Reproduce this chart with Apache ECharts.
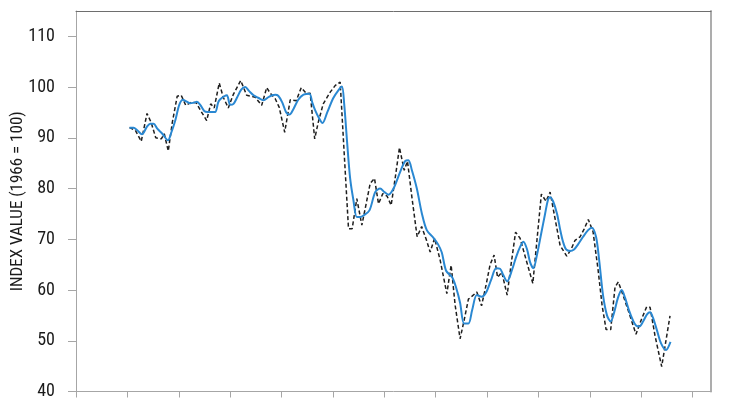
<!DOCTYPE html>
<html>
<head>
<meta charset="utf-8">
<script src="https://cdn.jsdelivr.net/npm/echarts@6/dist/echarts.min.js"></script>
<style>
html,body{margin:0;padding:0;background:#fff;}
#chart{width:740px;height:400px;}
</style>
</head>
<body>
<div id="chart"></div>
<script>
// Dashed series (index values, 1966 = 100)
const actualYears = [1965.21,1965.77,1966.35,1966.91,1967.32,1967.76,1968.30,1968.59,1968.98,1969.37,1969.85,1970.24,1970.68,1971.22,1971.70,1972.09,1972.72,1973.11,1973.45,1973.94,1974.33,1974.82,1975.30,1976.03,1976.61,1977.44,1978.07,1978.56,1978.90,1979.39,1979.78,1980.31,1980.85,1981.43,1981.92,1982.45,1982.79,1983.23,1983.57,1984.06,1984.74,1985.22,1985.71,1986.10,1986.52,1986.88,1987.33,1987.82,1988.24,1988.63,1989.05,1989.44,1989.86,1990.28,1990.67,1991.06,1991.48,1991.94,1992.26,1992.71,1993.20,1993.64,1994.08,1994.47,1994.90,1995.44,1996.09,1996.51,1996.90,1997.38,1997.77,1998.19,1998.55,1999.01,1999.47,1999.91,2000.30,2000.69,2001.03,2001.44,2001.96,2002.34,2002.78,2003.22,2003.80,2004.46,2004.87,2005.29,2005.75,2006.14,2006.63,2007.11,2007.76,2008.18,2008.57,2009.06,2009.45,2009.86,2010.32,2010.81,2011.20,2011.59,2012.04,2012.46,2012.78,2013.24,2013.82,2014.50,2014.99,2015.54,2015.87,2016.35,2017.00,2017.81];
const actualValues = [92.0,91.5,89.3,94.8,93.0,90.0,89.8,90.8,87.4,93.0,98.2,98.4,96.4,97.0,96.9,95.5,93.4,96.7,95.9,100.8,98.0,95.9,98.5,101.3,98.4,98.0,96.4,99.9,98.8,97.7,96.0,91.1,97.5,97.3,99.9,98.7,98.8,89.8,93.0,96.7,99.0,100.3,101.0,87.0,72.1,72.1,78.0,72.8,77.0,81.0,82.0,77.0,79.0,78.5,76.7,82.0,88.1,83.6,85.4,78.0,70.5,72.5,70.0,67.5,70.2,65.9,59.3,64.9,57.0,50.4,54.0,58.2,58.8,59.6,56.9,61.0,65.0,66.9,62.5,63.5,59.0,65.0,71.4,70.2,66.0,61.3,70.0,78.9,77.5,79.3,74.0,68.8,66.7,68.0,69.8,70.5,72.0,73.9,71.5,64.0,57.0,52.2,52.2,60.6,61.6,59.0,55.5,51.3,54.0,56.7,56.6,51.0,44.9,54.9];

// Solid blue series (smoothed trend)
const trendYears = [1965.21,1965.60,1965.96,1966.42,1966.91,1967.23,1967.55,1967.91,1968.40,1968.95,1969.27,1969.66,1970.05,1970.41,1970.73,1971.12,1971.41,1971.77,1972.09,1972.48,1972.80,1973.26,1973.55,1973.84,1974.04,1974.43,1974.69,1975.01,1975.33,1975.69,1976.08,1976.47,1976.86,1977.28,1977.73,1978.25,1978.71,1979.10,1979.39,1979.68,1980.07,1980.46,1980.78,1981.14,1981.63,1982.14,1982.72,1982.99,1983.28,1983.67,1983.99,1984.45,1985.03,1985.55,1985.88,1986.10,1986.39,1986.68,1987.00,1987.33,1987.66,1987.98,1988.56,1989.12,1989.60,1990.02,1990.41,1990.90,1991.55,1992.03,1992.35,1992.69,1993.17,1993.66,1994.14,1994.79,1995.24,1995.60,1996.02,1996.61,1996.99,1997.38,1997.77,1998.19,1998.55,1999.01,1999.49,1999.91,2000.40,2000.89,2001.27,2001.57,2001.96,2002.44,2002.83,2003.22,2003.54,2003.90,2004.19,2004.51,2004.87,2005.26,2005.65,2005.94,2006.14,2006.43,2006.82,2007.11,2007.40,2007.70,2008.08,2008.47,2008.86,2009.35,2009.84,2010.19,2010.61,2010.91,2011.29,2011.68,2012.04,2012.36,2012.75,2013.11,2013.43,2013.82,2014.21,2014.50,2014.83,2015.19,2015.57,2015.87,2016.16,2016.55,2016.94,2017.42,2017.86];
const trendValues = [92.0,92.0,91.5,90.7,92.2,92.8,92.8,91.8,90.8,89.5,91.0,93.4,96.5,97.5,97.2,96.8,96.9,97.1,96.5,95.3,95.1,95.1,95.1,97.0,97.6,98.2,98.4,96.5,96.7,98.0,99.5,100.0,99.2,98.4,97.9,97.4,98.0,98.4,98.5,98.3,97.0,95.0,94.6,95.6,97.5,98.5,98.7,97.0,95.4,93.8,92.9,95.0,97.8,99.4,100.1,96.7,89.0,82.0,77.7,74.4,74.4,74.7,75.7,79.3,80.0,79.3,78.8,80.0,83.3,85.4,85.6,83.6,80.0,75.1,71.8,70.3,69.0,67.4,63.8,62.5,60.5,57.5,53.4,53.4,56.0,59.0,58.7,59.5,62.0,64.3,64.2,63.0,61.7,64.0,66.5,68.5,69.5,68.0,65.5,64.3,67.0,71.0,75.0,77.8,78.3,77.5,75.0,72.0,69.5,68.0,67.7,68.0,69.0,70.5,71.8,72.3,70.5,66.0,59.0,55.0,53.8,55.5,58.5,60.0,58.5,56.0,54.0,53.0,52.8,53.8,55.2,55.6,54.5,52.0,49.5,48.2,49.8];

const yTickValues = [40, 50, 60, 70, 80, 90, 100, 110];
const xTickValues = [1960, 1965, 1970, 1975, 1980, 1985, 1990, 1995, 2000, 2005, 2010, 2015, 2020];
const yAxisTitle = 'INDEX VALUE (1966 = 100)';

const FONT = '"Roboto Condensed", "Liberation Sans", sans-serif';

const chart = echarts.init(document.getElementById('chart'), null, {renderer: 'canvas'});
chart.setOption({
  animation: false,
  backgroundColor: '#ffffff',
  grid: {left: 76, top: 11, right: 29, bottom: 8.5, containLabel: false, outerBoundsMode: 'none'},
  xAxis: [{
    type: 'value', min: 1960, max: 2021.8, interval: 5,
    axisLine: {show: true, lineStyle: {color: '#a6a6a6', width: 1}},
    axisTick: {show: true, customValues: xTickValues, length: 6, inside: false, lineStyle: {color: '#a6a6a6'}},
    axisLabel: {show: false},
    splitLine: {show: false}
  }, {
    type: 'value', position: 'top', min: 1960, max: 2021.8,
    axisLine: {show: true, onZero: false, lineStyle: {color: '#6e6e6e', width: 1}},
    axisTick: {show: false}, axisLabel: {show: false}, splitLine: {show: false}
  }],
  yAxis: [{
    type: 'value', min: 40, max: 115, interval: 10,
    name: yAxisTitle, nameLocation: 'middle', nameGap: 50, nameRotate: 90, nameMoveOverlap: false,
    nameTextStyle: {fontFamily: FONT, fontSize: 17, color: '#1a1a1a'},
    axisLine: {show: true, lineStyle: {color: '#a6a6a6', width: 1}},
    axisTick: {show: true, customValues: yTickValues, length: 8, lineStyle: {color: '#a6a6a6'}},
    axisLabel: {customValues: yTickValues, margin: 21, fontFamily: FONT, fontSize: 18, color: '#1a1a1a'},
    splitLine: {show: false}
  }, {
    type: 'value', position: 'right', min: 40, max: 115,
    axisLine: {show: true, onZero: false, lineStyle: {color: '#adadad', width: 2}},
    axisTick: {show: false}, axisLabel: {show: false}, splitLine: {show: false}
  }],
  series: [{
    type: 'line', name: 'Index',
    data: actualYears.map((x, i) => [x, actualValues[i]]),
    showSymbol: false, symbol: 'none',
    lineStyle: {color: '#1e1e1e', width: 1.5, type: [4, 2.5]},
    z: 2
  }, {
    type: 'line', name: 'Trend',
    data: trendYears.map((x, i) => [x, trendValues[i]]),
    showSymbol: false, symbol: 'none', smooth: 0.3,
    lineStyle: {color: '#2a88d2', width: 2},
    z: 3
  }]
});
</script>
</body>
</html>
